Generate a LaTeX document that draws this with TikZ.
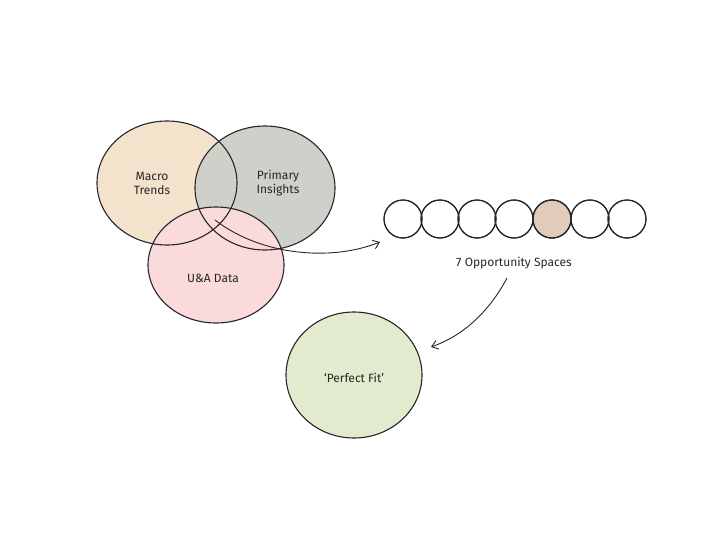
\documentclass[tikz,border=0pt]{standalone}
\usepackage{fontspec}
\setmainfont{Fira Sans}
\definecolor{macro}{HTML}{F4E3CC}
\definecolor{prim}{HTML}{D0D0CA}
\definecolor{ua}{HTML}{FBDADC}
\definecolor{fit}{HTML}{E3EBCF}
\definecolor{opp}{HTML}{E2CBB8}
\begin{document}
\begin{tikzpicture}[x=1pt,y=-1pt,
  line/.style={draw=black!85,line width=1.1pt},
  lbl/.style={font=\fontsize{12}{14}\selectfont,align=center,text=black!85},
  small/.style={circle,line,minimum size=38pt,inner sep=0pt},
  arr/.style={draw=black!85,line width=0.9pt,->,>={Straight Barb[length=6pt,width=9pt]}}]
\useasboundingbox (0,0) rectangle (720,554);
\usetikzlibrary{arrows.meta}
\begin{scope}[transparency group,blend mode=multiply]
\fill[macro] (167,183) ellipse [x radius=70,y radius=62];
\fill[prim] (265,188) ellipse [x radius=70,y radius=62];
\fill[ua] (216,265) ellipse [x radius=68,y radius=58];
\end{scope}
\draw[line] (167,183) ellipse [x radius=70,y radius=62];
\draw[line] (265,188) ellipse [x radius=70,y radius=62];
\draw[line] (216,265) ellipse [x radius=68,y radius=58];
\node[lbl] (macro) at (152,183) {Macro\\Trends};
\node[lbl] (prim) at (278,183) {Primary\\Insights};
\node[lbl] (ua) at (213,278) {U\&A Data};
\coordinate (vstart) at (215,220);
\foreach \i/\x in {1/403,2/440,3/477,4/514,5/552,6/590,7/627}{
  \node[small] (s\i) at (\x,219) {};
}
\node[small,fill=opp] at (s5) {};
\foreach \i in {1,...,7}{\draw[line] (s\i) circle (19pt);}
\node[lbl] (opp) at (514,263) {7 Opportunity Spaces};
\fill[fit,line] (354,375) ellipse [x radius=68,y radius=63];
\node[lbl] (fit) at (354,378) {`Perfect Fit'};
\coordinate (a1end) at (380,242);
\draw[arr] (vstart) .. controls (260,255) and (330,262) .. (a1end);
\coordinate (a2s) at (507,278);
\coordinate (a2e) at (431,347);
\draw[arr] (a2s) .. controls (490,310) and (465,335) .. (a2e);
\end{tikzpicture}
\end{document}
